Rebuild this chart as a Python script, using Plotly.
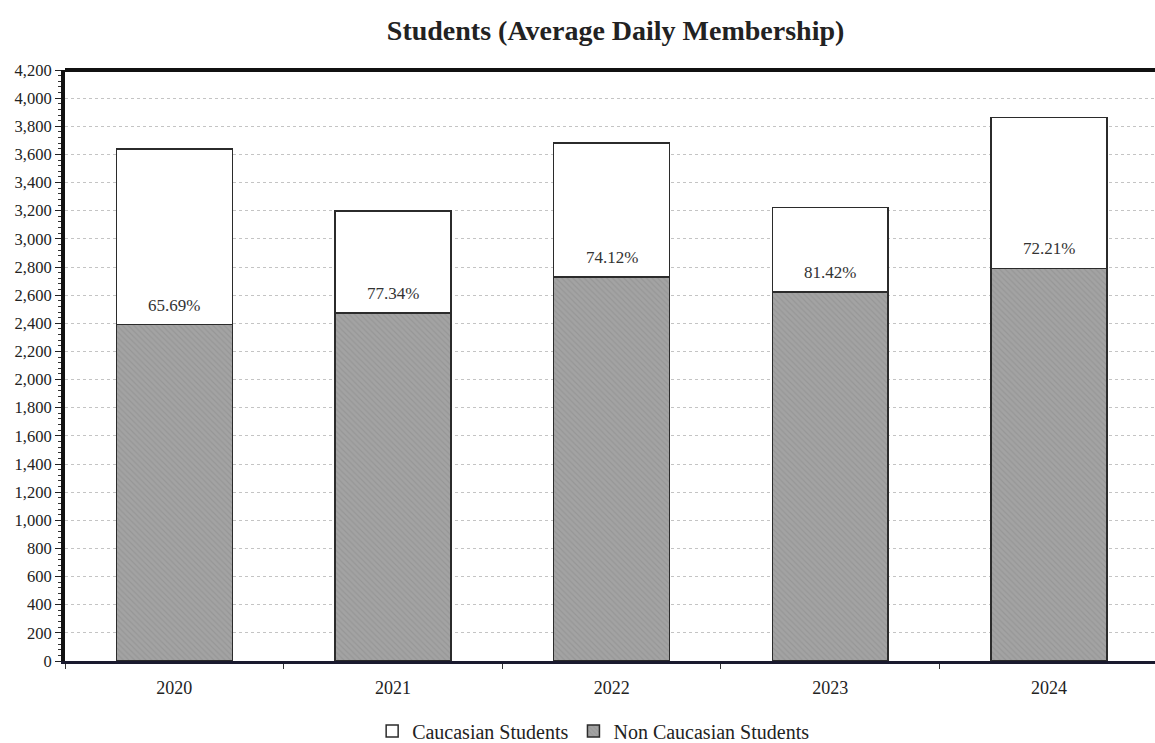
import plotly.graph_objects as go

years = ["2020", "2021", "2022", "2023", "2024"]
non_caucasian = [2391, 2473, 2728, 2623, 2790]
caucasian = [1249, 725, 953, 599, 1074]
pct_labels = ["65.69%", "77.34%", "74.12%", "81.42%", "72.21%"]
y_ticks = list(range(0, 4201, 200))

SERIF = "Liberation Serif, Times New Roman, serif"

fig = go.Figure()
fig.add_trace(go.Bar(
    x=years, y=non_caucasian, name="Non Caucasian Students",
    marker=dict(color="#a3a3a3", line=dict(color="#2b2b2b", width=1.5),
                pattern=dict(shape="\\", fgcolor="#8a8a8a", size=4, solidity=0.3)),
    width=0.53,
))
fig.add_trace(go.Bar(
    x=years, y=caucasian, name="Caucasian Students",
    marker=dict(color="white", line=dict(color="#2b2b2b", width=1.5)),
    width=0.53,
))

for i, (nv, lbl) in enumerate(zip(non_caucasian, pct_labels)):
    fig.add_annotation(x=i, y=nv, xref="x", yref="y", text=lbl, showarrow=False,
                       yanchor="bottom", yshift=8,
                       font=dict(family=SERIF, size=17, color="#333333"))

fig.update_layout(
    barmode="stack",
    width=1155, height=743,
    margin=dict(l=65, r=0, t=70, b=82, autoexpand=False),
    paper_bgcolor="white", plot_bgcolor="white",
    title=dict(text="<b>Students (Average Daily Membership)</b>", x=0.533, xanchor="center",
               y=0.96, yanchor="middle", font=dict(family=SERIF, size=28, color="#222222")),
    legend=dict(orientation="h", x=0.485, xanchor="center", yref="container", y=0.016,
                yanchor="middle", traceorder="reversed",
                font=dict(family=SERIF, size=20, color="#222222"), itemwidth=30),
)
fig.update_xaxes(
    type="category", range=[-0.5, 4.485], automargin=False,
    tickson="boundaries", ticks="outside", ticklen=5, tickcolor="#333",
    ticklabelstandoff=8,
    showline=True, linecolor="#1a1a2e", linewidth=3,
    tickfont=dict(family=SERIF, size=18, color="#222222"),
    showgrid=False,
)
fig.update_yaxes(
    range=[0, 4200], tickvals=y_ticks, automargin=False,
    ticktext=[f"{v:,}" for v in y_ticks],
    ticks="outside", ticklen=6, tickcolor="#222",
    tickfont=dict(family=SERIF, size=16.5, color="#222222"),
    showline=True, linecolor="#111111", linewidth=4,
    showgrid=True, gridcolor="#c4c4c4", gridwidth=1, griddash="dot",
    minor=dict(dtick=40, ticks="outside", ticklen=3, tickcolor="#333", showgrid=False),
    zeroline=False,
)
# top frame line
fig.add_shape(type="line", xref="paper", yref="paper", x0=0, x1=1, y0=1, y1=1,
              line=dict(color="#111111", width=4))

fig.write_html("out.html")
